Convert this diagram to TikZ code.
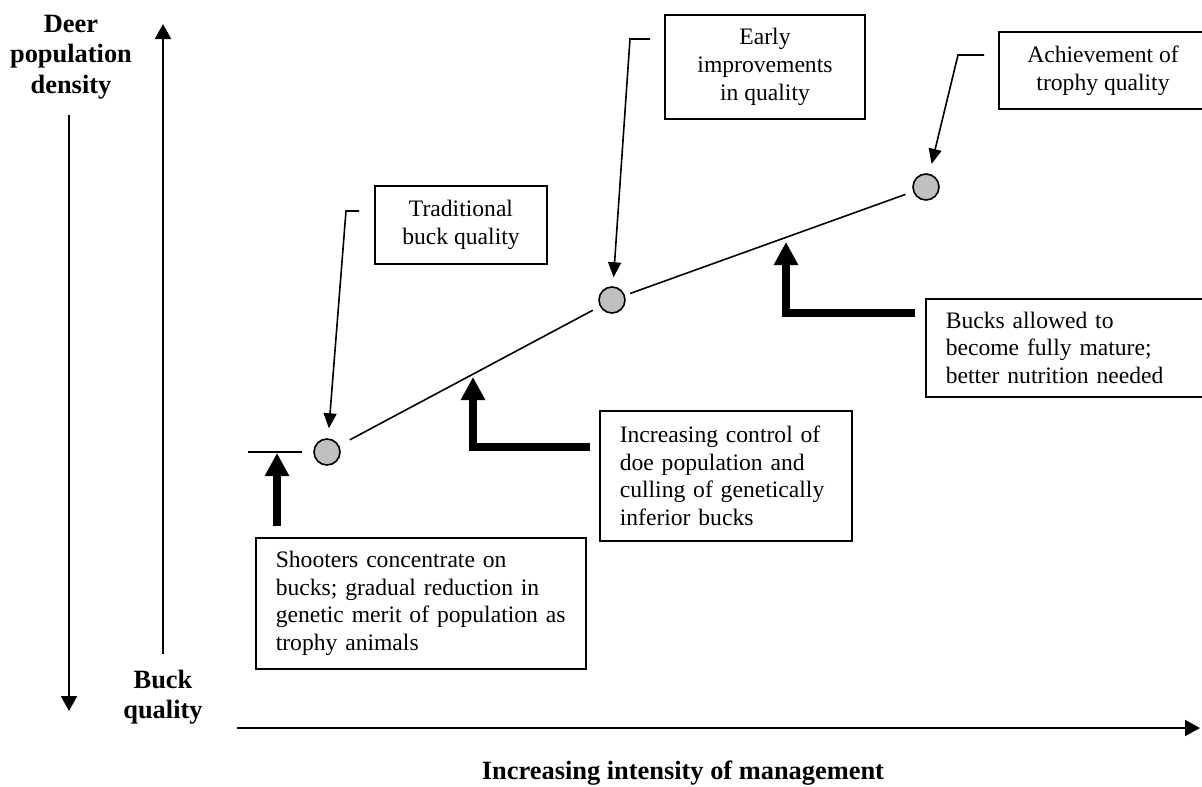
\documentclass[tikz,border=0pt]{standalone}
\usepackage{fontspec}
\setmainfont{Liberation Serif}
\usetikzlibrary{arrows.meta}
\definecolor{dotgray}{RGB}{192,192,192}
\begin{document}
\begin{tikzpicture}[x=1pt,y=-1pt,
  body/.style={font=\fontsize{23.6}{27.8}\selectfont},
  lbl/.style={font=\fontsize{26.4}{30.4}\selectfont\bfseries, align=center, inner sep=0pt},
  cbox/.style={draw, line width=1.6pt, body, align=center, inner sep=0pt},
  lbox/.style={draw, line width=1.6pt, body, align=left, anchor=north west, inner xsep=20pt, inner ysep=0pt},
  axisarrow/.style={line width=2pt, -{Triangle[length=15pt,width=16pt]}},
  leader/.style={line width=1.6pt, -{Triangle[length=15pt,width=13pt]}},
  bigarrow/.style={line width=8pt, line join=miter, -{Triangle[length=23pt,width=23pt]}},
  thinline/.style={line width=1.6pt},
  dot/.style={circle, draw, line width=1.6pt, fill=dotgray, minimum size=26pt, inner sep=0pt},
]
\useasboundingbox (0,0) rectangle (1202,787);

% axis labels
\node[lbl] (ylab) at (71,57) {Deer\\population\\density};
\node[lbl] (blab) at (163,697) {Buck\\quality};
\node[lbl] (xlab) at (683,773) {Increasing intensity of management};

% axes
\coordinate (dA) at (69,115); \coordinate (dB) at (69,711);
\coordinate (uA) at (163,654); \coordinate (uB) at (163,24);
\coordinate (hA) at (237,728); \coordinate (hB) at (1200,728);
\draw[axisarrow] (dA) -- (dB);
\draw[axisarrow] (uA) -- (uB);
\draw[axisarrow] (hA) -- (hB);

% points
\node[dot] (c1) at (327,452) {};
\node[dot] (c2) at (612,300) {};
\node[dot] (c3) at (926,187) {};
\draw[thinline, shorten <=12pt, shorten >=8pt] (c1) -- (c2);
\draw[thinline, shorten <=5.5pt, shorten >=8pt] (c2) -- (c3);

% top boxes
\node[cbox, minimum width=172pt, minimum height=78pt] (trad) at (461,225) {Traditional\\buck quality};
\node[cbox, minimum width=200pt, minimum height=104pt] (early) at (765,67) {Early\\improvements\\in quality};
\node[cbox, minimum width=208pt, minimum height=77pt] (troph) at (1103,70.5) {Achievement of\\trophy quality};

% leaders
\coordinate (t1a) at (359,211); \coordinate (t1b) at (346,211);
\coordinate (t2a) at (650,39); \coordinate (t2b) at (630,39);
\coordinate (t3a) at (984,55); \coordinate (t3b) at (958,55);
\draw[leader, shorten >=10pt] (t1a) -- (t1b) -- (c1);
\draw[leader, shorten >=9pt] (t2a) -- (t2b) -- (c2);
\draw[leader, shorten >=10pt] (t3a) -- (t3b) -- (c3);

% lower boxes
\node[lbox, text width=290pt, minimum height=131pt] (shoot) at (255,537)
  {Shooters concentrate on\\bucks; gradual reduction in\\genetic merit of population as\\trophy animals};
\node[lbox, text width=212pt, minimum height=130pt] (ctrl) at (599,410)
  {Increasing control of\\doe population and\\culling of genetically\\inferior bucks};
\node[lbox, text width=240pt, minimum height=98pt] (bucks) at (925,298)
  {Bucks allowed to\\become fully mature;\\better nutrition needed};

% level tick and thick arrows
\coordinate (lvA) at (248,452); \coordinate (lvB) at (302,452);
\draw[thinline] (lvA) -- (lvB);
\coordinate (b1s) at (277,526); \coordinate (b1e) at (277,453);
\draw[bigarrow] (b1s) -- (b1e);
\coordinate (b2s) at (590,447); \coordinate (b2e) at (473,377);
\draw[bigarrow] (b2s) -| (b2e);
\coordinate (b3s) at (915,313); \coordinate (b3e) at (786,242);
\draw[bigarrow] (b3s) -| (b3e);
\end{tikzpicture}
\end{document}
